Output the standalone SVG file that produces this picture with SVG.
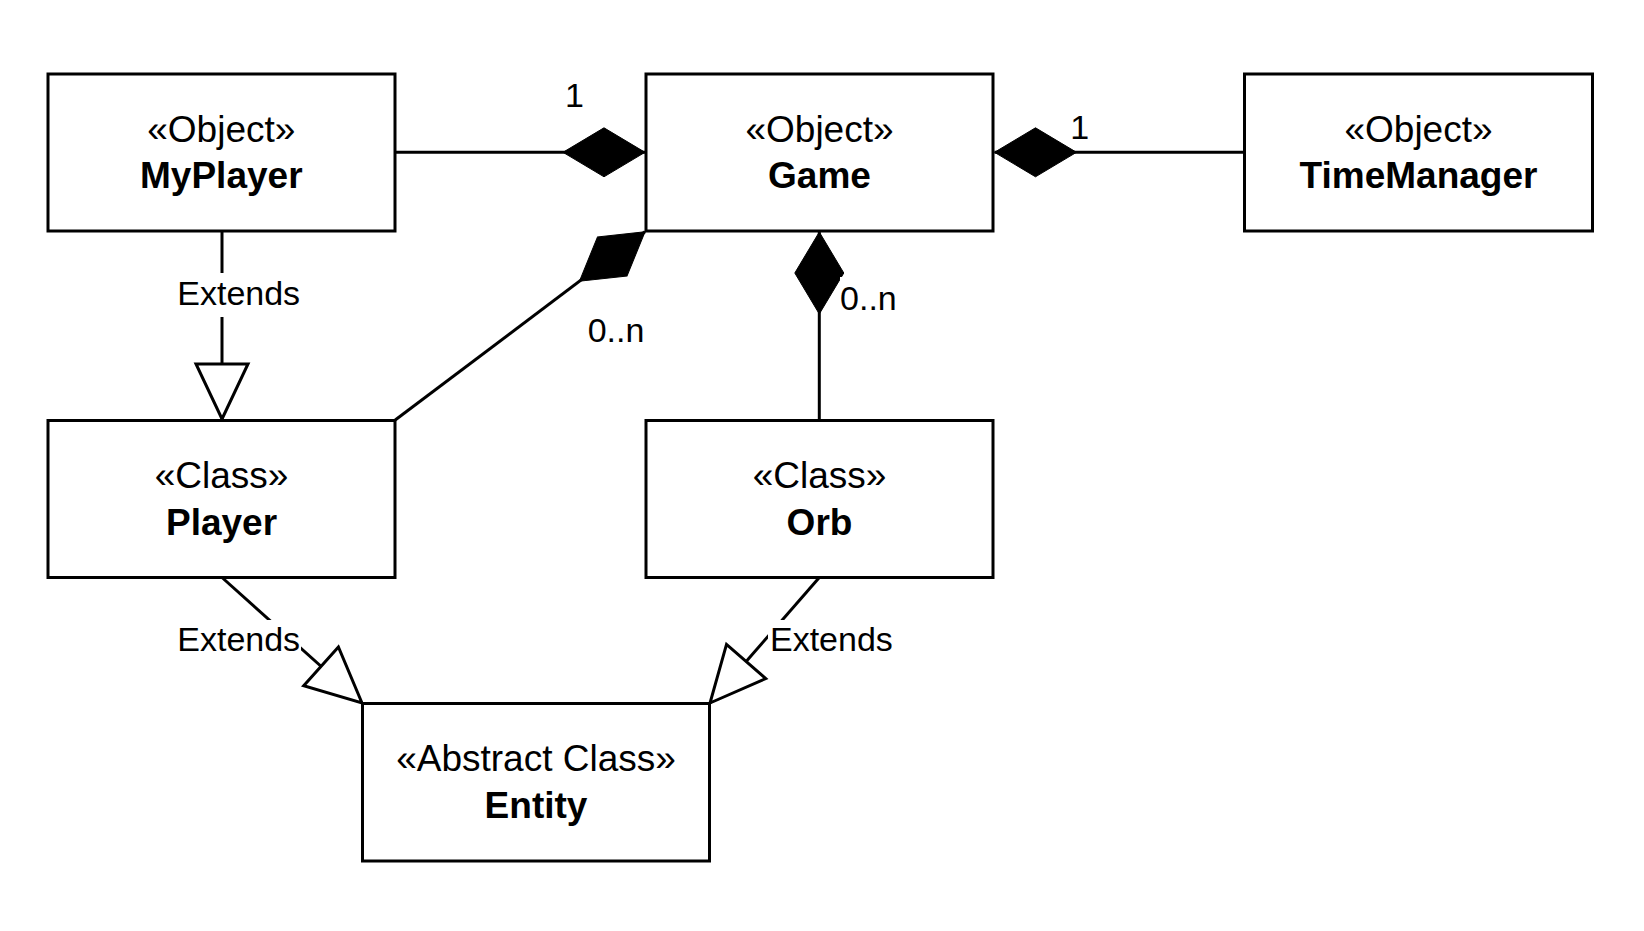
<svg xmlns="http://www.w3.org/2000/svg" width="1644" height="931" viewBox="0 0 1644 931">
  <style>
    .box { fill: #ffffff; stroke: #000000; stroke-width: 3; }
    .st { font-family: "Liberation Sans", Arial, Helvetica, sans-serif; font-size: 37px; text-anchor: middle; fill: #000; }
    .nm { font-family: "Liberation Sans", Arial, Helvetica, sans-serif; font-size: 37px; font-weight: bold; text-anchor: middle; fill: #000; }
    .edge { fill: none; stroke: #000000; stroke-width: 3; }
    .comp { marker-end: url(#diamond); }
    .ext { marker-end: url(#triangle); }
    .lbl { font-family: "Liberation Sans", Arial, Helvetica, sans-serif; font-size: 34px; text-anchor: middle; fill: #000; }
    .lblbg { fill: #ffffff; stroke: none; }
  </style>
  <defs>
    <marker id="diamond" markerUnits="userSpaceOnUse" viewBox="-86 -28 90 56" markerWidth="90" markerHeight="56" refX="0" refY="0" orient="auto" overflow="visible">
      <path d="M0,0 L-41,-24.5 L-82,0 L-41,24.5 Z" fill="#000" stroke="#000" stroke-width="1"/>
    </marker>
    <marker id="triangle" markerUnits="userSpaceOnUse" viewBox="-60 -30 64 60" markerWidth="64" markerHeight="60" refX="0" refY="0" orient="auto" overflow="visible">
      <path d="M0,0 L-55,-26 L-55,26 Z" fill="#fff" stroke="#000" stroke-width="3" stroke-linejoin="miter"/>
    </marker>
  </defs>
  <rect width="1644" height="931" fill="#ffffff"/>

  <g id="connectors">
    <path class="edge comp" d="M394.5,152.3 H645"/>
    <path class="edge comp" d="M1244.5,152.3 H994.5"/>
    <path class="edge comp" d="M395.2,420 L645,231.8"/>
    <path class="edge comp" d="M819.3,420 V232"/>
    <path class="edge ext" d="M222,231.5 V419"/>
    <path class="edge ext" d="M222,577.5 L362,703"/>
    <path class="edge ext" d="M819.3,577.5 L710,703"/>

    <text class="lbl" x="574.5" y="106.7">1</text>
    <text class="lbl" x="1079.6" y="139">1</text>
    <text class="lbl" x="616" y="341.7">0..n</text>
    <rect class="lblbg" x="840" y="277" width="58" height="43"/>
    <text class="lbl" x="868.4" y="310">0..n</text>

    <rect class="lblbg" x="176" y="273" width="125" height="44"/>
    <text class="lbl" x="238.7" y="305">Extends</text>
    <rect class="lblbg" x="176" y="620" width="125" height="38"/>
    <text class="lbl" x="238.7" y="650.7">Extends</text>
    <rect class="lblbg" x="768" y="620" width="127" height="38"/>
    <text class="lbl" x="831.4" y="650.7">Extends</text>
  </g>

  <g id="node-myplayer">
    <rect class="box" x="48" y="74" width="347" height="157"/>
    <text class="st" x="221.3" y="141.5">«Object»</text>
    <text class="nm" x="221.3" y="188">MyPlayer</text>
  </g>
  <g id="node-game">
    <rect class="box" x="646" y="74" width="347" height="157"/>
    <text class="st" x="819.5" y="141.5">«Object»</text>
    <text class="nm" x="819.5" y="188">Game</text>
  </g>
  <g id="node-timemanager">
    <rect class="box" x="1244.5" y="74" width="348" height="157"/>
    <text class="st" x="1418.5" y="141.5">«Object»</text>
    <text class="nm" x="1418.5" y="188">TimeManager</text>
  </g>
  <g id="node-player">
    <rect class="box" x="48" y="420.5" width="347" height="157"/>
    <text class="st" x="221.5" y="488">«Class»</text>
    <text class="nm" x="221.5" y="534.5">Player</text>
  </g>
  <g id="node-orb">
    <rect class="box" x="646" y="420.5" width="347" height="157"/>
    <text class="st" x="819.5" y="488">«Class»</text>
    <text class="nm" x="819.5" y="534.5">Orb</text>
  </g>
  <g id="node-entity">
    <rect class="box" x="362.5" y="703.5" width="347" height="157.5"/>
    <text class="st" x="536" y="771">«Abstract Class»</text>
    <text class="nm" x="536" y="817.5">Entity</text>
  </g>
</svg>
